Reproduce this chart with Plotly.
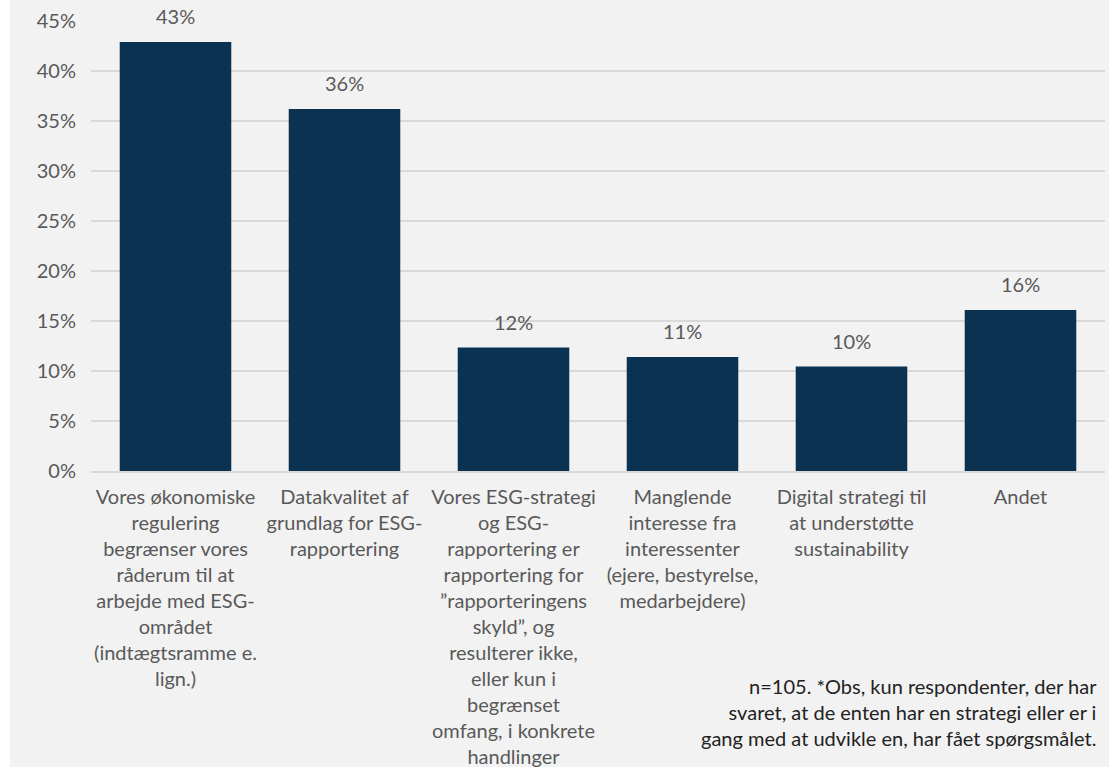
import plotly.graph_objects as go

# data
categories = [
    "Vores økonomiske<br>regulering<br>begrænser vores<br>råderum til at<br>arbejde med ESG-<br>området<br>(indtægtsramme e.<br>lign.)",
    "Datakvalitet af<br>grundlag for ESG-<br>rapportering",
    "Vores ESG-strategi<br>og ESG-<br>rapportering er<br>rapportering for<br>”rapporteringens<br>skyld”, og<br>resulterer ikke,<br>eller kun i<br>begrænset<br>omfang, i konkrete<br>handlinger",
    "Manglende<br>interesse fra<br>interessenter<br>(ejere, bestyrelse,<br>medarbejdere)",
    "Digital strategi til<br>at understøtte<br>sustainability",
    "Andet",
]
shares = [0.429, 0.362, 0.1235, 0.114, 0.1044, 0.161]
y_ticks = [0, 0.05, 0.10, 0.15, 0.20, 0.25, 0.30, 0.35, 0.40, 0.45]

note = ("n=105. *Obs, kun respondenter, der har<br>"
        "svaret, at de enten har en strategi eller er i<br>"
        "gang med at udvikle en, har fået spørgsmålet.")

FONT = "Lato"
GREY_TXT = "#595959"
BAR = "#0B3250"
BG = "#F2F2F2"

W, H = 1109, 767
ML, MR, MT, MB = 91, 4, 21, 296
PW, PH = W - ML - MR, H - MT - MB

fig = go.Figure(go.Bar(
    x=categories, y=shares,
    marker=dict(color=BAR, line=dict(width=0)),
    width=0.66,
    hoverinfo="x+y",
))

# value labels sit well above the bars
for cat, v in zip(categories, shares):
    fig.add_annotation(
        x=cat, y=v, text=f"{round(v * 100)}%", showarrow=False,
        yanchor="bottom", yshift=12,
        font=dict(family=FONT, size=20, color=GREY_TXT),
    )

fig.update_yaxes(
    range=[0, 0.45], tickvals=y_ticks, tickformat=".0%",
    showgrid=True, gridcolor="#D9D9D9", gridwidth=1.5,
    zeroline=False, showline=False, automargin=False,
    tickfont=dict(family=FONT, size=20, color=GREY_TXT),
    ticklabelstandoff=14,
)
fig.update_xaxes(
    showline=True, linecolor="#D9D9D9", linewidth=1.5,
    tickangle=0, tickfont=dict(family=FONT, size=20, color=GREY_TXT),
    ticklabelstandoff=7, automargin=False,
)

fig.add_annotation(
    text=note, xref="paper", yref="paper",
    x=(1099 - ML) / PW, y=-(711.5 - 471) / PH,
    xanchor="right", yanchor="middle", align="right", showarrow=False,
    font=dict(family=FONT, size=20, color="#222222"),
)

# white strip at the far left of the image
fig.add_shape(type="rect", xref="paper", yref="paper",
              x0=-ML / PW, x1=-(ML - 10) / PW, y0=-MB / PH, y1=1 + MT / PH,
              fillcolor="white", line=dict(width=0), layer="below")

fig.update_layout(
    width=W, height=H,
    paper_bgcolor=BG, plot_bgcolor=BG,
    margin=dict(l=ML, r=MR, t=MT, b=MB),
    bargap=0.34, showlegend=False,
    font=dict(family=FONT, color=GREY_TXT),
)

# drop the browser's default body margin so the figure fills the window
fig.write_html("out.html",
               config={"displayModeBar": False},
               post_script="document.body.style.margin='0';document.body.style.overflow='hidden';")
